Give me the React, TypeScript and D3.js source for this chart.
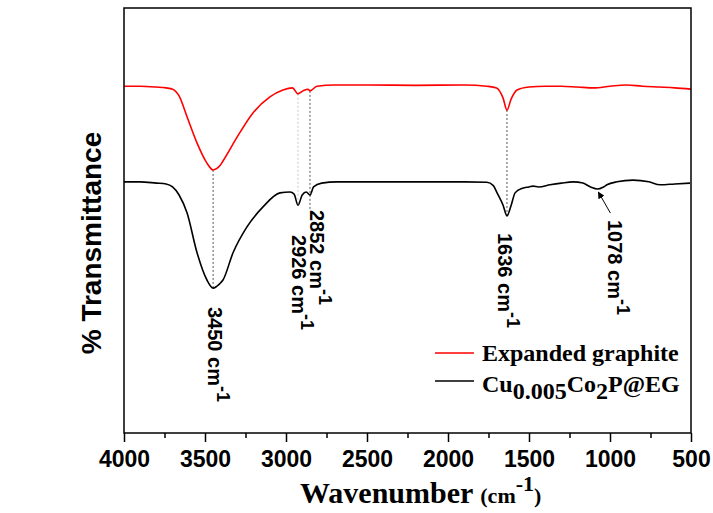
import React, { useEffect, useRef } from 'react';
import * as d3 from 'd3';

// Expanded graphite (red)
const egWave = [4000, 3900, 3800, 3740, 3700, 3660, 3611, 3549, 3488, 3450, 3410, 3389, 3302, 3204, 3099, 3019, 2960, 2926, 2895, 2864, 2852, 2809, 2700, 2500, 2200, 1900, 1760, 1700, 1660, 1636, 1610, 1574, 1500, 1400, 1300, 1200, 1100, 1000, 900, 800, 700, 600, 500];
const egTrans = [81.6, 81.6, 81.4, 81.2, 80.9, 79.3, 74.4, 68.2, 63.5, 61.9, 62.8, 64.0, 69.6, 75.3, 79.1, 80.7, 81.2, 79.8, 80.5, 80.9, 80.5, 81.6, 81.9, 81.9, 81.8, 81.9, 81.6, 81.2, 78.8, 76.0, 78.6, 80.7, 81.4, 81.6, 81.6, 81.4, 81.2, 81.6, 81.9, 81.6, 81.4, 81.2, 80.9];

// Cu0.005Co2P@EG (black)
const cuWave = [4000, 3900, 3800, 3740, 3700, 3660, 3611, 3549, 3488, 3450, 3410, 3389, 3327, 3241, 3142, 3037, 2975, 2950, 2926, 2900, 2875, 2852, 2830, 2780, 2685, 2400, 2100, 1900, 1760, 1720, 1697, 1660, 1636, 1610, 1586, 1540, 1500, 1475, 1440, 1370, 1300, 1228, 1167, 1120, 1078, 1040, 1019, 957, 858, 760, 691, 600, 506];
const cuTrans = [59.1, 59.1, 58.8, 58.6, 57.9, 56.0, 51.8, 42.4, 36.0, 34.1, 35.1, 36.0, 42.4, 48.5, 53.2, 56.5, 56.7, 56.2, 53.6, 56.0, 56.7, 56.0, 57.9, 58.8, 59.1, 59.1, 59.1, 59.1, 59.0, 58.2, 56.5, 53.6, 51.1, 53.6, 56.5, 57.6, 57.9, 58.1, 57.9, 58.4, 58.8, 59.1, 58.8, 57.9, 57.4, 57.9, 58.4, 59.1, 59.5, 59.1, 58.4, 58.6, 58.8];

const xTicks = [4000, 3500, 3000, 2500, 2000, 1500, 1000, 500];
const xMinorTicks = [3750, 3250, 2750, 2250, 1750, 1250, 750];
const peakLabels = ['3450', '2926', '2852', '1636', '1078'];
const legendLabels = ['Expanded graphite', 'Cu0.005Co2P@EG'];

const valueAt = (waves: number[], vals: number[], w: number) => {
  const i = waves.indexOf(w);
  return vals[i];
};

const App = () => {
  const chartRef = useRef<SVGSVGElement>(null);

  useEffect(() => {
    const width = 713;
    const height = 513;
    const margin = { top: 8, right: 22, bottom: 80, left: 124 };

    const svg = d3.select(chartRef.current);
    svg.selectAll('*').remove();

    const x = d3.scaleLinear().domain([4000, 500]).range([margin.left, width - margin.right]);
    const y = d3.scaleLinear().domain([0, 100]).range([height - margin.bottom, margin.top]);

    const line = d3
      .line<[number, number]>()
      .x(d => x(d[0]))
      .y(d => y(d[1]))
      .curve(d3.curveMonotoneX);

    // dashed guide lines
    const guides = svg.append('g').attr('fill', 'none').attr('stroke-width', 1).attr('stroke-dasharray', '2,2');
    const addGuide = (w: number, y1: number, y2: number, color: string) =>
      guides.append('line').attr('x1', x(w)).attr('x2', x(w)).attr('y1', y1).attr('y2', y2).attr('stroke', color);

    addGuide(3450, y(valueAt(egWave, egTrans, 3450)), y(valueAt(cuWave, cuTrans, 3450)), '#555');
    addGuide(1636, y(valueAt(egWave, egTrans, 1636)), y(valueAt(cuWave, cuTrans, 1636)), '#555');
    addGuide(2926, y(valueAt(egWave, egTrans, 2926)), 206, '#c8c8c8');
    addGuide(2852, y(valueAt(egWave, egTrans, 2852)), 210, '#555');

    // curves
    svg
      .append('path')
      .datum(egWave.map((w, i) => [w, egTrans[i]] as [number, number]))
      .attr('d', line)
      .attr('fill', 'none')
      .attr('stroke', '#ff0000')
      .attr('stroke-width', 1.6);

    svg
      .append('path')
      .datum(cuWave.map((w, i) => [w, cuTrans[i]] as [number, number]))
      .attr('d', line)
      .attr('fill', 'none')
      .attr('stroke', '#000')
      .attr('stroke-width', 1.6);

    // peak labels (rotated)
    const labelPos = [
      { w: 3450, dx: -5, top: 307 },
      { w: 2926, dx: -6, top: 235 },
      { w: 2852, dx: 0, top: 210 },
      { w: 1636, dx: -9, top: 233 },
      { w: 1078, dx: 11, top: 220 }
    ];
    labelPos.forEach((p, i) => {
      const t = svg
        .append('text')
        .attr('transform', `translate(${x(p.w) + p.dx},${p.top}) rotate(90)`)
        .attr('font-family', 'Liberation Sans, Arial, sans-serif')
        .attr('font-weight', 'bold')
        .attr('font-size', 20)
        .attr('fill', '#000');
      t.append('tspan').text(`${peakLabels[i]} cm`);
      t.append('tspan').attr('dy', -9).attr('font-size', 18).text('-1');
    });

    // arrow for 1078
    svg
      .append('defs')
      .append('marker')
      .attr('id', 'arrowhead')
      .attr('viewBox', '0 0 10 10')
      .attr('refX', 9)
      .attr('refY', 5)
      .attr('markerWidth', 7)
      .attr('markerHeight', 7)
      .attr('orient', 'auto')
      .append('path')
      .attr('d', 'M0,0L10,5L0,10z')
      .attr('fill', '#000');

    svg
      .append('line')
      .attr('x1', x(1078) + 13)
      .attr('y1', 213)
      .attr('x2', x(1078) + 1)
      .attr('y2', y(valueAt(cuWave, cuTrans, 1078)) + 3)
      .attr('stroke', '#000')
      .attr('stroke-width', 1)
      .attr('marker-end', 'url(#arrowhead)');

    // x axis
    const axisY = height - margin.bottom;
    const xAxis = svg
      .append('g')
      .attr('transform', `translate(0,${axisY})`)
      .call(
        d3
          .axisBottom(x)
          .tickValues(xTicks)
          .tickSize(9)
          .tickSizeOuter(0)
          .tickPadding(9)
          .tickFormat(d3.format('d'))
      );
    xAxis.select('.domain').remove();
    xAxis.selectAll('line').attr('stroke', '#000').attr('stroke-width', 1.5);
    xAxis
      .selectAll('text')
      .attr('font-family', 'Liberation Sans, Arial, sans-serif')
      .attr('font-weight', 'bold')
      .attr('font-size', 23)
      .attr('fill', '#000');

    const minor = svg
      .append('g')
      .attr('transform', `translate(0,${axisY})`)
      .call(d3.axisBottom(x).tickValues(xMinorTicks).tickSize(5).tickSizeOuter(0).tickFormat(() => ''));
    minor.select('.domain').remove();
    minor.selectAll('line').attr('stroke', '#000').attr('stroke-width', 1.5);

    // frame
    svg
      .append('rect')
      .attr('x', margin.left)
      .attr('y', margin.top)
      .attr('width', width - margin.left - margin.right)
      .attr('height', height - margin.top - margin.bottom)
      .attr('fill', 'none')
      .attr('stroke', '#000')
      .attr('stroke-width', 1.5);

    // axis titles
    const xt = svg
      .append('text')
      .attr('x', 300)
      .attr('y', 503)
      .attr('font-family', 'Liberation Serif, Times New Roman, serif')
      .attr('font-weight', 'bold')
      .attr('fill', '#000');
    xt.append('tspan').attr('font-size', 30).text('Wavenumber ');
    xt.append('tspan').attr('font-size', 22).text('(cm');
    xt.append('tspan').attr('font-size', 22).attr('dy', -12).text('-1');
    xt.append('tspan').attr('font-size', 22).attr('dy', 12).text(')');

    svg
      .append('text')
      .attr('transform', 'translate(101,243) rotate(-90)')
      .attr('text-anchor', 'middle')
      .attr('font-family', 'Liberation Sans, Arial, sans-serif')
      .attr('font-weight', 'bold')
      .attr('font-size', 28)
      .attr('fill', '#000')
      .text('% Transmittance');

    // legend
    const legend = svg.append('g');
    const colors = ['#ff0000', '#000'];
    [353, 381].forEach((ly, i) => {
      legend
        .append('line')
        .attr('x1', 435)
        .attr('x2', 474)
        .attr('y1', ly)
        .attr('y2', ly)
        .attr('stroke', colors[i])
        .attr('stroke-width', 1.6);
    });
    legend
      .append('text')
      .attr('x', 482)
      .attr('y', 361)
      .attr('font-family', 'Liberation Serif, Times New Roman, serif')
      .attr('font-weight', 'bold')
      .attr('font-size', 24)
      .attr('fill', '#000')
      .text(legendLabels[0]);
    const lt = legend
      .append('text')
      .attr('x', 482)
      .attr('y', 392)
      .attr('font-family', 'Liberation Serif, Times New Roman, serif')
      .attr('font-weight', 'bold')
      .attr('font-size', 24)
      .attr('fill', '#000');
    lt.append('tspan').text('Cu');
    lt.append('tspan').attr('dy', 7).text('0.005');
    lt.append('tspan').attr('dy', -7).text('Co');
    lt.append('tspan').attr('dy', 7).text('2');
    lt.append('tspan').attr('dy', -7).text('P@EG');
  }, []);

  return (
    <svg
      ref={chartRef}
      width={713}
      height={513}
      style={{ position: 'absolute', left: 0, top: 0, background: '#fff' }}
    ></svg>
  );
};

export default App;
